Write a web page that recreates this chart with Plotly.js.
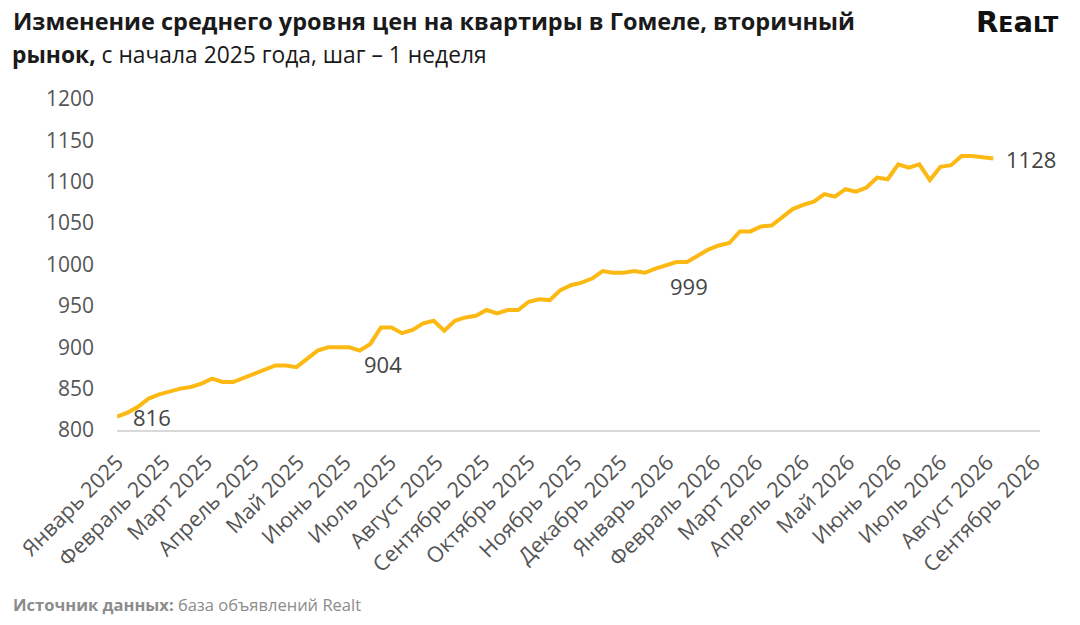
<!DOCTYPE html>
<html>
<head>
<meta charset="utf-8">
<script src="https://cdn.plot.ly/plotly-3.0.1.min.js"></script>
<style>
  html, body { margin: 0; padding: 0; background: #fff; }
  #chart { width: 1080px; height: 625px; }
</style>
</head>
<body>
<div id="chart"></div>
<script>
// средняя цена, шаг - 1 неделя, с 1 января 2025
var startDate = '2025-01-01';
var prices = [
  816, 821, 828, 838, 843, 847, 850, 852, 856, 862,
  858, 858, 863, 867, 873, 878, 878, 876, 886, 896,
  900, 900, 900, 896, 904, 924, 924, 917, 921, 929,
  932, 920, 932, 936, 938, 945, 941, 945, 945, 955,
  958, 957, 969, 975, 978, 983, 992, 990, 990, 992,
  990, 995, 999, 1003, 1003, 1010, 1018, 1023, 1026, 1040,
  1040, 1046, 1047, 1057, 1067, 1072, 1076, 1085, 1082, 1091,
  1088, 1093, 1105, 1103, 1121, 1117, 1121, 1102, 1118, 1120,
  1131, 1131, 1129, 1128
];

// подписи оси x - по месяцам
var monthDates = [
  '2025-01-01', '2025-02-01', '2025-03-01', '2025-04-01', '2025-05-01',
  '2025-06-01', '2025-07-01', '2025-08-01', '2025-09-01', '2025-10-01',
  '2025-11-01', '2025-12-01', '2026-01-01', '2026-02-01', '2026-03-01',
  '2026-04-01', '2026-05-01', '2026-06-01', '2026-07-01', '2026-08-01',
  '2026-09-01'
];
var monthNames = [
  'Январь 2025', 'Февраль 2025', 'Март 2025', 'Апрель 2025', 'Май 2025',
  'Июнь 2025', 'Июль 2025', 'Август 2025', 'Сентябрь 2025', 'Октябрь 2025',
  'Ноябрь 2025', 'Декабрь 2025', 'Январь 2026', 'Февраль 2026', 'Март 2026',
  'Апрель 2026', 'Май 2026', 'Июнь 2026', 'Июль 2026', 'Август 2026',
  'Сентябрь 2026'
];
var yTicks = [800, 850, 900, 950, 1000, 1050, 1100, 1150, 1200];

// точки с подписями (индекс недели) и сдвиг подписи
var labelIdx = [0, 24, 52, 83];
var labelShiftX = [35, 13, 23, 38];
var labelShiftY = [0, -20, -21, 0];

// даты недель
var weeks = [];
var d0 = new Date(startDate + 'T00:00:00Z');
for (var i = 0; i < prices.length; i++) {
  var d = new Date(d0.getTime() + i * 7 * 86400000);
  weeks.push(d.toISOString().slice(0, 10));
}

var FONT = 'Open Sans, Lato, sans-serif';

var line = {
  x: weeks,
  y: prices,
  type: 'scatter',
  mode: 'lines',
  line: { color: '#FDB913', width: 4 },
  hoverinfo: 'skip'
};

var ann = [];
for (var k = 0; k < labelIdx.length; k++) {
  ann.push({
    x: weeks[labelIdx[k]],
    y: prices[labelIdx[k]],
    text: String(prices[labelIdx[k]]),
    showarrow: false,
    xshift: labelShiftX[k],
    yshift: labelShiftY[k],
    font: { family: FONT, size: 22, color: '#444444' }
  });
}

// вторая строка заголовка
ann.push({
  xref: 'paper', yref: 'paper',
  x: -0.1112, y: 1.133,
  xanchor: 'left', yanchor: 'middle',
  xshift: -4,
  text: '<b>рынок,</b> с начала 2025 года, шаг – 1 неделя',
  showarrow: false,
  font: { family: FONT, size: 22.8, color: '#1a1a1a' }
});

// логотип
ann.push({
  xref: 'paper', yref: 'paper',
  x: 1.0195, y: 1.233,
  xanchor: 'right', yanchor: 'middle',
  xshift: 2,
  text: '<b>R<span style="font-size:22px">E</span>a<span style="font-size:22px">LT</span></b>',
  showarrow: false,
  font: { family: 'DejaVu Sans, sans-serif', size: 29, color: '#111111' }
});

// источник
ann.push({
  xref: 'paper', yref: 'paper',
  x: -0.1112, y: -0.5257,
  xanchor: 'left', yanchor: 'middle',
  xshift: -3,
  text: '<b>Источник данных:</b> база объявлений Realt',
  showarrow: false,
  font: { family: FONT, size: 16.5, color: '#8c8c8c' }
});

var layout = {
  width: 1080,
  height: 625,
  margin: { l: 117, r: 40, t: 99, b: 195 },
  paper_bgcolor: '#ffffff',
  plot_bgcolor: '#ffffff',
  showlegend: false,
  title: {
    text: '<b>Изменение среднего уровня цен на квартиры в Гомеле, вторичный</b>',
    x: 13 / 1080, xanchor: 'left', xref: 'container',
    y: 1 - 22 / 625, yanchor: 'middle', yref: 'container',
    font: { family: FONT, size: 23.5, color: '#1a1a1a' }
  },
  xaxis: {
    type: 'date',
    range: ['2025-01-01', '2026-09-05'],
    tickmode: 'array',
    tickvals: monthDates,
    ticktext: monthNames,
    tickangle: -45,
    ticks: '',
    showgrid: false,
    zeroline: false,
    showline: true,
    linecolor: '#d9d9d9',
    linewidth: 1.5,
    ticklabelstandoff: 10,
    tickfont: { family: FONT, size: 21.5, color: '#555555' }
  },
  yaxis: {
    range: [800, 1200],
    tickmode: 'array',
    tickvals: yTicks,
    ticks: '',
    showgrid: false,
    zeroline: false,
    showline: false,
    ticklabelstandoff: 22,
    tickfont: { family: FONT, size: 21, color: '#555555' }
  },
  annotations: ann
};

Plotly.newPlot('chart', [line], layout, { displayModeBar: false, staticPlot: true });
</script>
</body>
</html>
